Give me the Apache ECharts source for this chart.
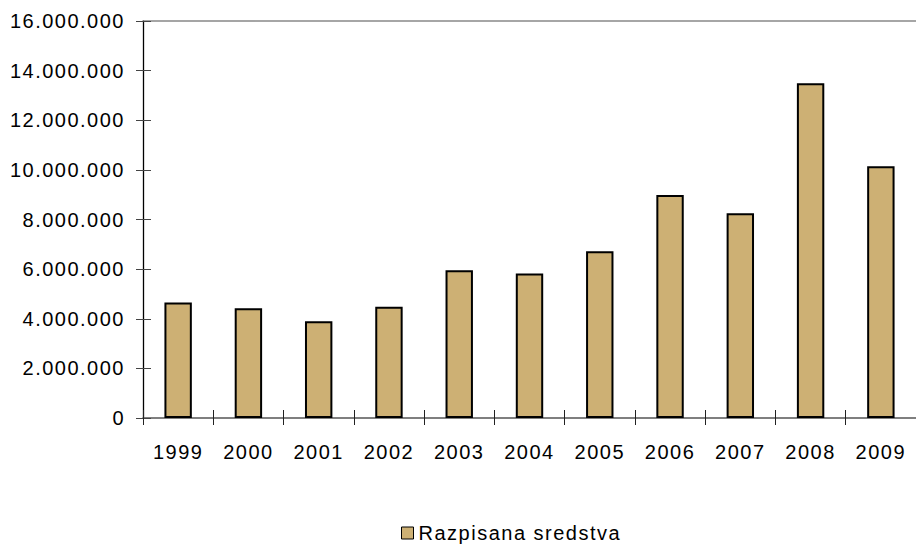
<!DOCTYPE html>
<html>
<head>
<meta charset="utf-8">
<script src="https://cdn.jsdelivr.net/npm/echarts@6/dist/echarts.min.js"></script>
<style>
  html, body { margin: 0; padding: 0; background: #fff; }
  #chart { width: 916px; height: 544px; }
  /* the original labels are slightly spaced out */
  #chart svg text { letter-spacing: 1.5px; }
</style>
</head>
<body>
<div id="chart"></div>
<script>
// data
const years = ['1999', '2000', '2001', '2002', '2003', '2004', '2005', '2006', '2007', '2008', '2009']
const razpisanaSredstva = [4650000, 4420000, 3900000, 4480000, 5950000, 5820000, 6720000, 8990000, 8250000, 13490000, 10150000]
const yMax = 16000000
const yStep = 2000000

const font = 'Liberation Sans, Arial, Helvetica, sans-serif'

// 16000000 -> 16.000.000
function dotted(v) {
  return String(v).replace(/\B(?=(\d{3})+(?!\d))/g, '.')
}

const chart = echarts.init(document.getElementById('chart'), null, { renderer: 'svg' })

chart.setOption({
  animation: false,
  textStyle: { fontFamily: font },
  grid: { left: 143, top: 21, right: -11, bottom: 126 },
  legend: {
    data: [{ name: 'Razpisana sredstva', icon: 'rect', itemStyle: { borderWidth: 1, borderColor: '#000' } }],
    left: 396,
    top: 518,
    itemWidth: 12,
    itemHeight: 12,
    textStyle: { fontFamily: font, fontSize: 20, lineHeight: 20, color: '#000' }
  },
  xAxis: [
    {
      type: 'category',
      data: years,
      position: 'bottom',
      axisLine: { lineStyle: { color: '#555', width: 1.5 } },
      axisTick: { show: true, interval: 0, length: 7, lineStyle: { color: '#222' } },
      axisLabel: { interval: 0, margin: 24, fontSize: 20, color: '#000', fontFamily: font }
    },
    {
      // inner half of the crossing ticks
      type: 'category',
      data: years,
      position: 'bottom',
      axisLine: { show: false },
      axisTick: { show: true, inside: true, interval: 0, length: 8, lineStyle: { color: '#222' } },
      axisLabel: { show: false }
    },
    {
      // top border line
      type: 'category',
      data: years,
      position: 'top',
      axisLine: { lineStyle: { color: '#888', width: 1.5 } },
      axisTick: { show: false },
      axisLabel: { show: false }
    }
  ],
  yAxis: [
    {
      type: 'value',
      min: 0,
      max: yMax,
      interval: yStep,
      position: 'left',
      axisLine: { show: true, lineStyle: { color: '#000', width: 1.3 } },
      axisTick: { show: true, length: 7, lineStyle: { color: '#444' } },
      splitLine: { show: false },
      axisLabel: { margin: 18, fontSize: 20, color: '#000', fontFamily: font, formatter: dotted }
    },
    {
      type: 'value',
      min: 0,
      max: yMax,
      interval: yStep,
      position: 'left',
      axisLine: { show: false },
      axisTick: { show: true, inside: true, length: 8, lineStyle: { color: '#444' } },
      splitLine: { show: false },
      axisLabel: { show: false }
    }
  ],
  series: [
    {
      name: 'Razpisana sredstva',
      type: 'bar',
      data: razpisanaSredstva,
      barWidth: '39%',
      itemStyle: { color: '#CDB074', borderColor: '#000', borderWidth: 2 }
    }
  ]
})
</script>
</body>
</html>
